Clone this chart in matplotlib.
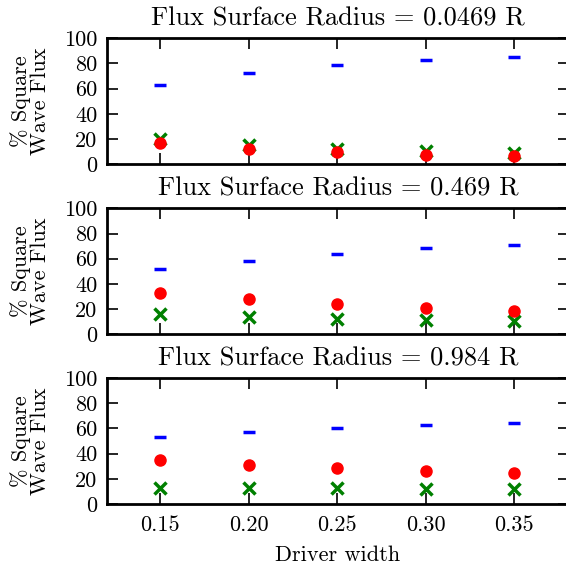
import matplotlib
matplotlib.use("Agg")
import matplotlib.pyplot as plt

plt.rcParams['font.family'] = 'serif'
plt.rcParams['font.serif'] = ['cmr10', 'DejaVu Serif']
plt.rcParams['mathtext.fontset'] = 'cm'
plt.rcParams['axes.unicode_minus'] = False
plt.rcParams['axes.formatter.use_mathtext'] = False

driver_width = [0.15, 0.20, 0.25, 0.30, 0.35]
titles = ["Flux Surface Radius = 0.0469 R",
          "Flux Surface Radius = 0.469 R",
          "Flux Surface Radius = 0.984 R"]

blue_r1 = [62.8, 72.4, 78.8, 82.5, 84.9]
red_r1 = [17.0, 12.2, 9.5, 7.4, 6.4]
green_r1 = [20.3, 15.5, 11.9, 10.3, 9.0]

blue_r2 = [51.6, 58.2, 64.0, 68.3, 71.1]
red_r2 = [33.0, 28.3, 24.0, 20.9, 18.8]
green_r2 = [16.1, 14.0, 12.4, 11.3, 10.8]

blue_r3 = [52.9, 57.1, 60.0, 62.4, 64.5]
red_r3 = [34.9, 31.2, 28.3, 26.2, 24.6]
green_r3 = [12.7, 12.4, 12.4, 12.2, 12.2]

blues = [blue_r1, blue_r2, blue_r3]
reds = [red_r1, red_r2, red_r3]
greens = [green_r1, green_r2, green_r3]

yticks = [0, 20, 40, 60, 80, 100]
ylabel = "% Square\nWave Flux"
xlabel = "Driver width"

fig = plt.figure(figsize=(5.66, 5.70), dpi=100)
W, H = 566.0, 570.0
left = 107.0 / W
right = 569.0 / W
tops = [38.3, 208.3, 378.0]
height_px = 126.0

for i in range(3):
    ax = fig.add_axes([left, 1 - (tops[i] + height_px) / H, right - left, height_px / H])
    ax.plot(driver_width, greens[i], linestyle='none', marker='x', color='green',
            markersize=8, markeredgewidth=2.5, clip_on=False)
    ax.plot(driver_width, reds[i], linestyle='none', marker='o', color='red',
            markersize=8, markeredgecolor='red', clip_on=False)
    ax.plot(driver_width, blues[i], linestyle='none', marker='_', color='blue',
            markersize=8, markeredgewidth=2.5, clip_on=False)
    ax.set_xlim(0.12, 0.381)
    ax.set_ylim(0, 100)
    ax.set_yticks(yticks)
    ax.set_xticks(driver_width)
    ax.tick_params(direction='in', length=8, width=1.2, top=True, right=True,
                   labelsize=16)
    ax.tick_params(axis='y', pad=7)
    ax.tick_params(axis='x', pad=8)
    if i < 2:
        ax.set_xticklabels([])
    else:
        ax.set_xticklabels(["%.2f" % v for v in driver_width])
        ax.set_xlabel(xlabel, fontsize=16, labelpad=8)
    for s in ax.spines.values():
        s.set_linewidth(2)
    ax.set_title(titles[i], fontsize=19, pad=9)
    ax.set_ylabel(ylabel, fontsize=16, labelpad=10, linespacing=0.95)

fig.savefig("out.png", dpi=100)
